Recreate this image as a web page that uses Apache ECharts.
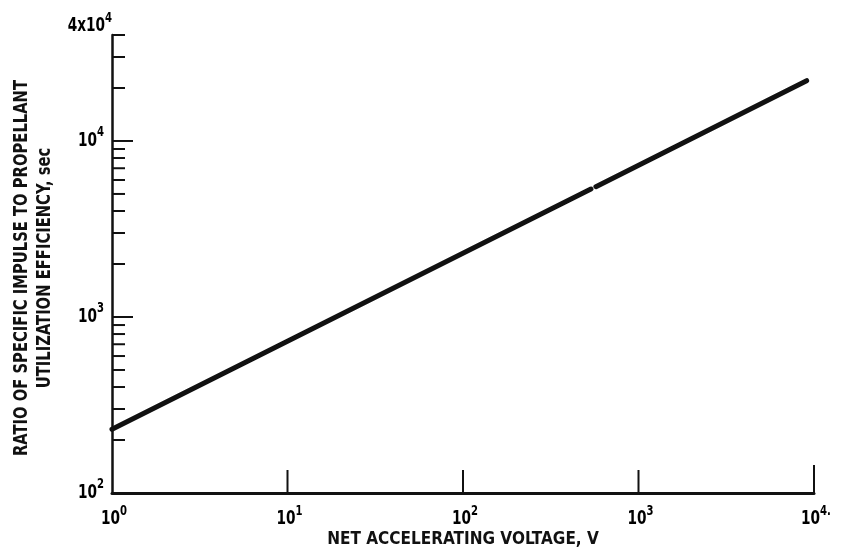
<!DOCTYPE html>
<html>
<head>
<meta charset="utf-8">
<script src="https://cdn.jsdelivr.net/npm/echarts@6/dist/echarts.min.js"></script>
<style>
  html, body { margin: 0; padding: 0; background: #fff; }
  #chart { width: 841px; height: 553px; }
</style>
</head>
<body>
<div id="chart"></div>
<script>
// Specific impulse / propellant utilization efficiency vs net accelerating voltage (log-log)
const voltage  = [1,   536,  null, 572,  9080];
const ratioSec = [230, 5330, null, 5500, 22000];

// Tick positions on the ordinate (sec) and abscissa (V)
const yMinorTicks = [200, 300, 400, 500, 600, 700, 800, 900,
                     2000, 3000, 4000, 5000, 6000, 7000, 8000, 9000,
                     20000, 30000, 40000];
const yMajorTicks = [1000, 10000];
const xTicks = [10, 100, 1000];
const xEndTicks = [10000];

// Tick labels: mantissa text plus superscript exponent
const yLabelValues = [100, 1000, 10000, 40000];
const yLabelBase   = ['10', '10', '10', '4x10'];
const yLabelExp    = ['2', '3', '4', '4'];
const xLabelValues = [1, 10, 100, 1000, 10000];
const xLabelBase   = ['10', '10', '10', '10', '10'];
const xLabelExp    = ['0', '1', '2', '3', '4.'];

const xTitle = 'NET ACCELERATING VOLTAGE, V';
const yTitle = ['RATIO OF SPECIFIC IMPULSE TO PROPELLANT', 'UTILIZATION EFFICIENCY, sec'];

const FONT = "'Liberation Sans Narrow', 'DejaVu Sans Condensed', 'Arial Narrow', sans-serif";
const INK = '#111';

const richLabel = {
  b: { fontFamily: FONT, fontWeight: 'bold', fontSize: 19, color: INK, padding: [6, 0, 0, 0] },
  s: { fontFamily: FONT, fontWeight: 'bold', fontSize: 14, color: INK, verticalAlign: 'top' }
};

function tickLine(x1, y1, x2, y2) {
  return { type: 'line', shape: { x1, y1, x2, y2 }, style: { stroke: INK, lineWidth: 2 } };
}

const chart = echarts.init(document.getElementById('chart'), null, { renderer: 'canvas' });

chart.setOption({
  backgroundColor: '#fff',
  animation: false,
  grid: { left: 112, right: 27, top: 35, bottom: 60, containLabel: false },
  xAxis: {
    type: 'log', logBase: 10, min: 1, max: 10000,
    axisLine: { show: true, lineStyle: { color: INK, width: 3 } },
    axisTick: { show: false }, axisLabel: { show: false }, splitLine: { show: false }
  },
  yAxis: {
    type: 'log', logBase: 10, min: 100, max: 40000,
    axisLine: { show: true, lineStyle: { color: INK, width: 2.5 } },
    axisTick: { show: false }, axisLabel: { show: false }, splitLine: { show: false }
  },
  graphic: [{
    type: 'text', x: 33, y: 268, rotation: Math.PI / 2, scaleX: 0.82,
    style: {
      text: yTitle.join('\n'), align: 'center', verticalAlign: 'middle',
      fontFamily: FONT, fontWeight: 'bold', fontSize: 20, lineHeight: 23, fill: INK
    }
  }, {
    type: 'text', x: 463, y: 539, scaleX: 0.92,
    style: {
      text: xTitle, align: 'center', verticalAlign: 'middle',
      fontFamily: FONT, fontWeight: 'bold', fontSize: 18.5, fill: INK
    }
  }],
  series: [
    {
      // inward ticks on the ordinate
      type: 'custom', silent: true, clip: false,
      data: yMinorTicks.map(v => [1, v, 13]).concat(yMajorTicks.map(v => [1, v, 21])),
      encode: { x: 0, y: 1 },
      renderItem: (params, api) => {
        const p = api.coord([api.value(0), api.value(1)]);
        return tickLine(p[0], p[1], p[0] + api.value(2), p[1]);
      }
    },
    {
      // upward ticks on the abscissa
      type: 'custom', silent: true, clip: false,
      data: xTicks.map(v => [v, 100, 23]).concat(xEndTicks.map(v => [v, 100, 28])),
      encode: { x: 0, y: 1 },
      renderItem: (params, api) => {
        const p = api.coord([api.value(0), api.value(1)]);
        return tickLine(p[0], p[1], p[0], p[1] - api.value(2));
      }
    },
    {
      // ordinate tick labels
      type: 'custom', silent: true, clip: false,
      data: yLabelValues.map(v => [1, v]),
      encode: { x: 0, y: 1 },
      renderItem: (params, api) => {
        const i = params.dataIndex;
        const p = api.coord([api.value(0), api.value(1)]);
        const top = i === yLabelValues.length - 1;
        return {
          type: 'text',
          x: top ? p[0] : p[0] - 8,
          y: top ? p[1] + 1 : p[1] - 3,
          scaleX: 0.8,
          style: {
            text: '{b|' + yLabelBase[i] + '}{s|' + yLabelExp[i] + '}',
            rich: richLabel, align: 'right', verticalAlign: top ? 'bottom' : 'middle'
          }
        };
      }
    },
    {
      // abscissa tick labels
      type: 'custom', silent: true, clip: false,
      data: xLabelValues.map(v => [v, 100]),
      encode: { x: 0, y: 1 },
      renderItem: (params, api) => {
        const i = params.dataIndex;
        const p = api.coord([api.value(0), api.value(1)]);
        return {
          type: 'text', x: p[0] + 2, y: p[1] + 11,
          scaleX: 0.8,
          style: {
            text: '{b|' + xLabelBase[i] + '}{s|' + xLabelExp[i] + '}',
            rich: richLabel, align: 'center', verticalAlign: 'top'
          }
        };
      }
    },
    {
      type: 'line', silent: true,
      data: voltage.map((v, i) => (v == null ? ['-', '-'] : [v, ratioSec[i]])),
      showSymbol: false, connectNulls: false, z: 5,
      lineStyle: { color: INK, width: 5, cap: 'round' }
    }
  ]
});
</script>
</body>
</html>
